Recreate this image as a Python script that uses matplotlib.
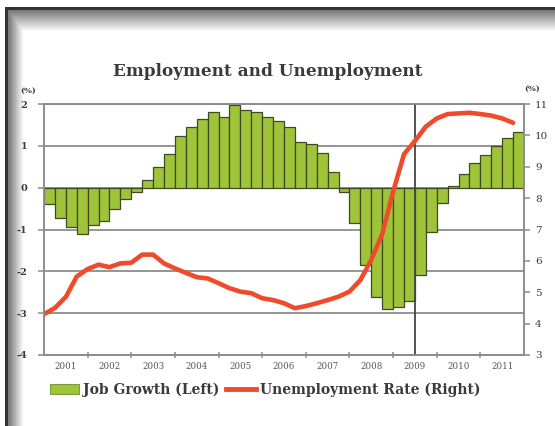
import numpy as np
import matplotlib.pyplot as plt
from matplotlib.patches import Patch
from matplotlib.lines import Line2D

plt.rcParams['font.family'] = ['DejaVu Serif']
plt.rcParams['axes.unicode_minus'] = False

# quarterly data 2001Q1 - 2011Q4
quarters = np.arange(2001, 2012, 0.25)
job_growth = [-0.4, -0.73, -0.93, -1.11, -0.9, -0.8, -0.52, -0.28,
              -0.1, 0.18, 0.5, 0.8, 1.23, 1.44, 1.65, 1.8,
              1.7, 1.97, 1.86, 1.8, 1.7, 1.59, 1.46, 1.08,
              1.04, 0.82, 0.37, -0.11, -0.84, -1.85, -2.62, -2.89,
              -2.85, -2.7, -2.09, -1.05, -0.36, 0.03, 0.33, 0.58,
              0.78, 1.0, 1.18, 1.32]
unemployment = [4.3, 4.5, 4.85, 5.5, 5.74, 5.88, 5.8, 5.92,
                5.94, 6.2, 6.2, 5.92, 5.76, 5.62, 5.48, 5.44,
                5.29, 5.13, 5.02, 4.97, 4.81, 4.75, 4.65, 4.49,
                4.56, 4.65, 4.75, 4.86, 5.02, 5.39, 6.03, 6.85,
                8.2, 9.4, 9.82, 10.28, 10.54, 10.68, 10.7, 10.72,
                10.68, 10.63, 10.54, 10.4]
years = list(range(2001, 2012))
left_ticks = [-4, -3, -2, -1, 0, 1, 2]
right_ticks = [3, 4, 5, 6, 7, 8, 9, 10, 11]

bar_green = '#9fc43a'
bar_edge = '#3e4a22'
line_red = '#ef4a2b'
text_col = '#3a3a3a'
grid_col = '#8c8c8c'

fig = plt.figure(figsize=(5.55, 4.26), dpi=100)

# photo frame: dark edge at top and left with soft shadow
h, w = 426, 555
yy, xx = np.mgrid[0:h, 0:w]
top = np.clip(0.45 + (yy - 9) / 22 * 0.55, 0.45, 1.0)
left = np.clip(0.5 + (xx - 9) / 14 * 0.5, 0.5, 1.0)
shade = np.minimum(top, left)
shade[(yy >= 7) & (yy < 10) & (xx >= 5)] = 0.2
shade[(xx >= 5) & (xx < 8) & (yy >= 7)] = 0.2
shade[yy < 7] = 1.0
shade[(xx < 5) & (yy >= 7)] = 1.0
bg = fig.add_axes([0, 0, 1, 1], zorder=-10)
bg.imshow(shade, cmap='gray', vmin=0, vmax=1, aspect='auto', interpolation='bilinear')
bg.axis('off')

ax = fig.add_axes([44 / 555, 1 - 355 / 426, 480 / 555, 251 / 426])
ax.set_facecolor('none')
ax2 = ax.twinx()

ax.bar(quarters, job_growth, width=0.25, align='edge', color=bar_green,
       edgecolor=bar_edge, linewidth=0.9, zorder=2)
ax.set_axisbelow(True)
ax.set_xlim(2001, 2012)
ax.set_ylim(-4, 2)
ax.set_yticks(left_ticks)
ax.set_yticklabels([str(t) for t in left_ticks], fontsize=7, fontweight='bold', color=text_col)
ax.yaxis.grid(True, color=grid_col, linewidth=1.3)
ax.axvline(2009.5, color='#444444', linewidth=1.3, zorder=3)

ax.set_xticks(years[1:])
ax.set_xticklabels([])
ax.set_xticks([y + 0.5 for y in years], minor=True)
ax.set_xticklabels([str(y) for y in years], minor=True, fontsize=6.2, color='#555555')
ax.tick_params(axis='x', which='major', direction='inout', length=5, color=grid_col, width=1.1)
ax.tick_params(axis='x', which='minor', length=0, pad=5)
ax.tick_params(axis='y', length=4, color=grid_col, width=1.1, pad=8)

ax2.plot(quarters, unemployment, color=line_red, linewidth=3.3, solid_capstyle='round')
ax2.set_ylim(3, 11)
ax2.set_yticks(right_ticks)
ax2.set_yticklabels([str(t) for t in right_ticks], fontsize=7.5, color=text_col)
ax2.tick_params(axis='y', length=4, color=grid_col, width=1.1, pad=4)

for a in (ax, ax2):
    for s in a.spines.values():
        s.set_color(grid_col)
        s.set_linewidth(1.2)

fig.text(268 / 555, 1 - 72 / 426, 'Employment and Unemployment', ha='center', va='center',
         fontsize=12.2, fontweight='bold', color=text_col)
fig.text(28 / 555, 1 - 91 / 426, '(%)', ha='center', va='center', fontsize=6, fontweight='bold', color=text_col)
fig.text(532 / 555, 1 - 89 / 426, '(%)', ha='center', va='center', fontsize=6, fontweight='bold', color=text_col)

handles = [Patch(facecolor=bar_green, edgecolor='#7f9a3a', linewidth=0.8),
           Line2D([0], [0], color=line_red, linewidth=3.5)]
fig.legend(handles, ['Job Growth (Left)', 'Unemployment Rate (Right)'], loc='center',
           bbox_to_anchor=(265 / 555, 1 - 390 / 426), ncol=2, frameon=False,
           prop={'size': 10, 'weight': 'bold'}, labelcolor=text_col,
           handlelength=2.1, handleheight=0.75, handletextpad=0.3, columnspacing=0.5)

fig.savefig('out.png', dpi=100)
